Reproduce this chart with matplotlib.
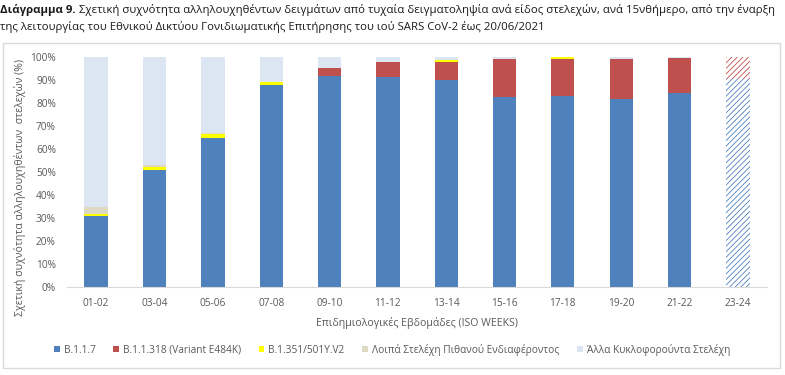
import matplotlib
matplotlib.use("Agg")
import matplotlib.pyplot as plt
from matplotlib.patches import Patch, Rectangle
import numpy as np

weeks = ['01-02', '03-04', '05-06', '07-08', '09-10', '11-12',
         '13-14', '15-16', '17-18', '19-20', '21-22', '23-24']
b117 = [31.0, 51.0, 65.0, 88.0, 91.7, 91.3, 90.0, 82.5, 83.2, 81.6, 84.2, 90.3]
b11318 = [0.0, 0.0, 0.0, 0.0, 3.6, 6.5, 8.0, 16.5, 16.1, 17.4, 15.4, 9.7]
b1351 = [0.8, 1.0, 1.5, 1.0, 0.0, 0.0, 0.5, 0.0, 0.7, 0.0, 0.0, 0.0]
other_voi = [3.2, 1.0, 0.5, 0.0, 0.0, 0.0, 0.0, 0.0, 0.0, 0.0, 0.0, 0.0]
other = [65.0, 47.0, 33.0, 11.0, 4.7, 2.2, 1.5, 1.0, 0.0, 1.0, 0.4, 0.0]
provisional = [False] * 11 + [True]

series_names = ['B.1.1.7', 'B.1.1.318 (Variant E484K)', 'B.1.351/501Y.V2',
                'Λοιπά Στελέχη Πιθανού Ενδιαφέροντος', 'Άλλα Κυκλοφορούντα Στελέχη']
colors = ['#4F81BD', '#C0504D', '#FFFF00', '#DDD9C3', '#DCE6F2']

title_bold = 'Διάγραμμα 9.'
title_rest1 = ' Σχετική συχνότητα αλληλουχηθέντων δειγμάτων από τυχαία δειγματοληψία ανά είδος στελεχών, ανά 15νθήμερο, από την έναρξη'
title_line2 = 'της λειτουργίας του Εθνικού Δικτύου Γονιδιωματικής Επιτήρησης του ιού SARS CoV-2 έως 20/06/2021'
ylabel = 'Σχετική συχνότητα αλληλουχηθέντων  στελεχών (%)'
xlabel = 'Επιδημιολογικές Εβδομάδες (ISO WEEKS)'

plt.rcParams['font.family'] = ['Open Sans', 'DejaVu Sans']
plt.rcParams['hatch.linewidth'] = 0.6

fig = plt.figure(figsize=(7.85, 3.75), dpi=100)
fig.patches.append(Rectangle((3/785, 1 - 368/375), 777/785, 325/375,
                             transform=fig.transFigure, fill=False,
                             edgecolor='#D9D9D9', linewidth=1.0))

ax = fig.add_axes([67/785, 1 - 287/375, 700/785, 230/375])
x = np.arange(len(weeks))
data = [b117, b11318, b1351, other_voi, other]
bottom = np.zeros(len(weeks))
for vals, col in zip(data, colors):
    vals = np.array(vals) / 100.0
    for i in range(len(weeks)):
        if vals[i] <= 0:
            continue
        if provisional[i]:
            ax.bar(x[i], vals[i], 0.4, bottom=bottom[i], facecolor='white',
                   edgecolor=col, hatch='//////', linewidth=0)
        else:
            ax.bar(x[i], vals[i], 0.4, bottom=bottom[i], color=col, linewidth=0)
    bottom += vals

gray = '#595959'
ax.set_xlim(-0.5, len(weeks) - 0.5)
ax.set_ylim(0, 1)
ax.set_yticks(np.arange(0, 1.01, 0.1))
ax.set_yticklabels([f'{int(round(v*100))}%' for v in np.arange(0, 1.01, 0.1)])
ax.set_xticks(x)
ax.set_xticklabels(weeks)
ax.tick_params(axis='both', length=0, colors=gray, labelsize=7.3)
ax.tick_params(axis='y', pad=8)
ax.tick_params(axis='x', pad=8)
for s in ['top', 'right', 'left']:
    ax.spines[s].set_visible(False)
ax.spines['bottom'].set_color('#D9D9D9')
ax.set_xlabel(xlabel, color=gray, fontsize=7.6, labelpad=6)
fig.text(20/785, 1 - 187/375, ylabel, rotation=90, ha='center', va='center',
         color=gray, fontsize=7.6)

handles = [Patch(facecolor=c, edgecolor='none') for c in colors]
fig.legend(handles, series_names, loc='center', bbox_to_anchor=(392/785, 1 - 350/375),
           ncol=5, frameon=False, fontsize=7.3, handlelength=0.55, handleheight=0.55,
           handletextpad=0.4, columnspacing=1.75, labelcolor=gray)

fs_title = 8.2
t1 = fig.text(0.0, 1 - 10/375, title_bold, fontweight='bold', fontsize=fs_title,
              va='center', ha='left', color='#1a1a1a')
fig.canvas.draw()
bb = t1.get_window_extent()
fig.text(bb.x1 / fig.bbox.width, 1 - 10/375, title_rest1, fontsize=fs_title,
         va='center', ha='left', color='#1a1a1a')
fig.text(0.0, 1 - 27/375, title_line2, fontsize=fs_title, va='center', ha='left',
         color='#1a1a1a')

fig.savefig('out.png', dpi=100)
